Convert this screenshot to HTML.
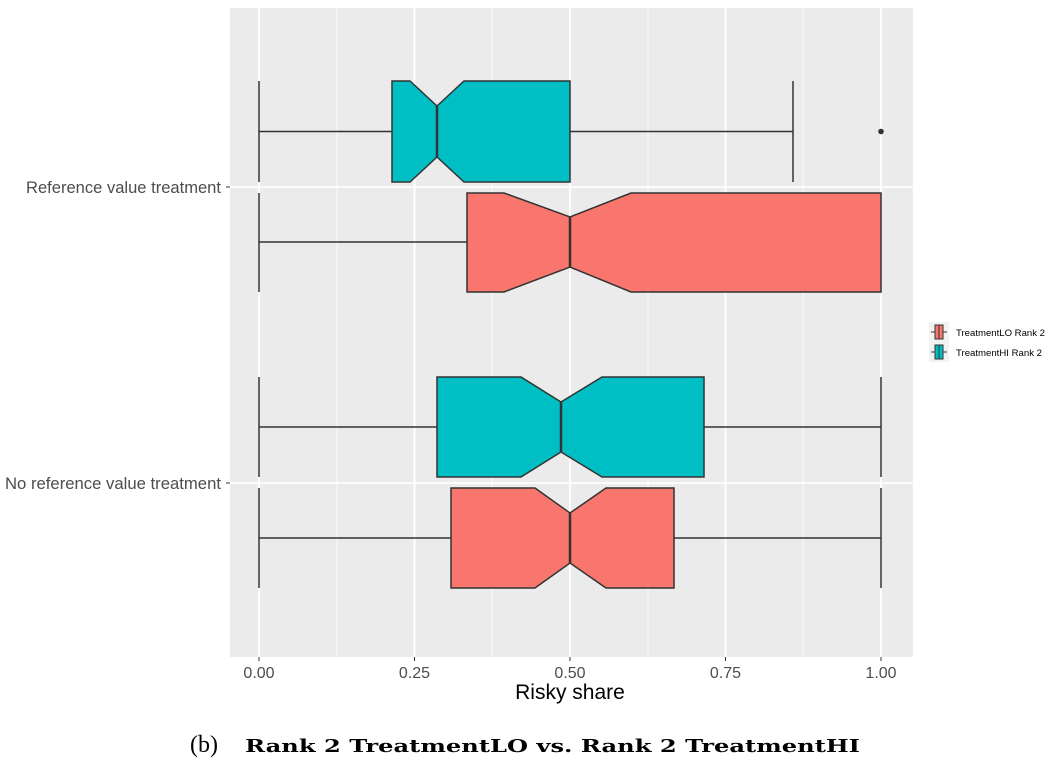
<!DOCTYPE html>
<html><head><meta charset="utf-8"><style>body{margin:0;background:#fff}</style></head><body>
<svg width="1056" height="765" xmlns="http://www.w3.org/2000/svg" font-family="Liberation Sans, sans-serif">
<rect x="230" y="8" width="683" height="649" fill="#ebebeb"/>
<g stroke="#fff" stroke-width="0.8">
<line x1="337" y1="8" x2="337" y2="657"/><line x1="492" y1="8" x2="492" y2="657"/><line x1="648" y1="8" x2="648" y2="657"/><line x1="803" y1="8" x2="803" y2="657"/>
</g>
<g stroke="#fff" stroke-width="1.8">
<line x1="259" y1="8" x2="259" y2="657"/><line x1="414.5" y1="8" x2="414.5" y2="657"/><line x1="570" y1="8" x2="570" y2="657"/><line x1="725.5" y1="8" x2="725.5" y2="657"/><line x1="881" y1="8" x2="881" y2="657"/>
<line x1="230" y1="187" x2="913" y2="187"/><line x1="230" y1="483" x2="913" y2="483"/>
</g>
<g stroke="#333" stroke-width="1.5" fill="none">
<line x1="259" y1="81" x2="259" y2="182"/><line x1="259" y1="131.5" x2="392" y2="131.5"/><line x1="570" y1="131.5" x2="793" y2="131.5"/><line x1="793" y1="81" x2="793" y2="182"/>
<polygon fill="#00bfc4" points="392,81 410,81 437,106 464,81 570,81 570,182 464,182 437,157 410,182 392,182"/>
<line x1="437" y1="106" x2="437" y2="157" stroke-width="2.5"/>
<line x1="259" y1="193" x2="259" y2="292"/><line x1="259" y1="242" x2="467" y2="242"/>
<polygon fill="#f8766d" points="467,193 504,193 570,217 631,193 881,193 881,292 631,292 570,267 504,292 467,292"/>
<line x1="570" y1="217" x2="570" y2="267" stroke-width="2.5"/>
<line x1="259" y1="377" x2="259" y2="477"/><line x1="259" y1="427" x2="437" y2="427"/><line x1="704" y1="427" x2="881" y2="427"/><line x1="881" y1="377" x2="881" y2="477"/>
<polygon fill="#00bfc4" points="437,377 521,377 561,402 602,377 704,377 704,477 602,477 561,452 521,477 437,477"/>
<line x1="561" y1="402" x2="561" y2="452" stroke-width="2.5"/>
<line x1="259" y1="488" x2="259" y2="588"/><line x1="259" y1="538" x2="451" y2="538"/><line x1="674" y1="538" x2="881" y2="538"/><line x1="881" y1="488" x2="881" y2="588"/>
<polygon fill="#f8766d" points="451,488 535,488 570,513 606,488 674,488 674,588 606,588 570,563 535,588 451,588"/>
<line x1="570" y1="513" x2="570" y2="563" stroke-width="2.5"/>
</g>
<circle cx="881" cy="131.5" r="2.8" fill="#333"/>
<g stroke="#333" stroke-width="1"><line x1="226" y1="187" x2="230" y2="187"/><line x1="226" y1="483" x2="230" y2="483"/>
<line x1="259" y1="657" x2="259" y2="661"/><line x1="414.5" y1="657" x2="414.5" y2="661"/><line x1="570" y1="657" x2="570" y2="661"/><line x1="725.5" y1="657" x2="725.5" y2="661"/><line x1="881" y1="657" x2="881" y2="661"/></g>
<g fill="#4d4d4d" font-size="16.5"><text x="26" y="193" textLength="195" lengthAdjust="spacingAndGlyphs">Reference value treatment</text><text x="5" y="489" textLength="216" lengthAdjust="spacingAndGlyphs">No reference value treatment</text></g>
<g fill="#4d4d4d" font-size="16" text-anchor="middle"><text x="259" y="678">0.00</text><text x="414.5" y="678">0.25</text><text x="570" y="678">0.50</text><text x="725.5" y="678">0.75</text><text x="881" y="678">1.00</text></g>
<text x="570" y="699" font-size="21" text-anchor="middle" fill="#000">Risky share</text>
<rect x="929" y="322" width="20" height="20" fill="#f2f2f2"/>
<rect x="929" y="342" width="20" height="20" fill="#f2f2f2"/>
<g stroke="#333" stroke-width="1"><line x1="931" y1="332" x2="947" y2="332"/><rect x="935" y="325" width="8" height="14" fill="#f8766d"/><line x1="939" y1="325" x2="939" y2="339"/>
<line x1="931" y1="352" x2="947" y2="352"/><rect x="935" y="345" width="8" height="14" fill="#00bfc4"/><line x1="939" y1="345" x2="939" y2="359"/></g>
<g font-size="9.5" fill="#000"><text x="956" y="336" textLength="89" lengthAdjust="spacingAndGlyphs">TreatmentLO Rank 2</text><text x="956" y="356" textLength="86" lengthAdjust="spacingAndGlyphs">TreatmentHI Rank 2</text></g>
<text x="190" y="752" font-family="Liberation Serif, serif" font-size="24" fill="#000">(b)</text>
<text x="245" y="752" font-family="DejaVu Serif, serif" font-size="18" font-weight="bold" fill="#000" textLength="615" lengthAdjust="spacingAndGlyphs">Rank 2 TreatmentLO vs. Rank 2 TreatmentHI</text>
</svg>
</body></html>
